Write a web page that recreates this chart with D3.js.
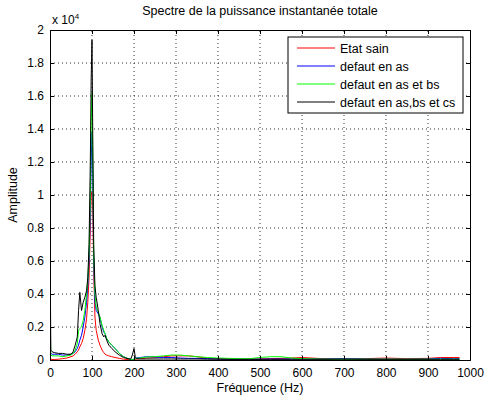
<!DOCTYPE html>
<html><head><meta charset="utf-8">
<script src="https://d3js.org/d3.v7.min.js"></script>
<style>body{margin:0;background:#fff}svg{display:block}text{font-family:"Liberation Sans",Arial,sans-serif;fill:#000}</style>
</head><body>
<script>
const freq = [0,2,5,10,20,30,40,50,55,60,65,68,71,75,79,83,87,90,93,96,98,100,102,104,107,110,115,119,124,128,131,135,140,147,155,165,175,186,192,196,200,203,206,215,230,250,270,290,310,330,350,375,400,425,450,475,500,525,550,575,600,650,700,750,800,850,900,930,960,975];
// values in units of 1e4
const etatSain = [0.01,0.005,0.003,0.003,0.005,0.008,0.012,0.02,0.025,0.035,0.05,0.06,0.08,0.1,0.13,0.18,0.25,0.35,0.5,0.8,1.0,1.02,0.9,0.55,0.26,0.18,0.12,0.09,0.06,0.045,0.035,0.03,0.025,0.02,0.015,0.01,0.005,0.003,0.002,0.002,0.003,0.003,0.005,0.008,0.012,0.015,0.02,0.025,0.025,0.025,0.02,0.01,0.008,0.006,0.005,0.005,0.006,0.008,0.01,0.012,0.015,0.008,0.006,0.008,0.012,0.008,0.01,0.015,0.015,0.015];
const defautAs = [0.05,0.04,0.035,0.035,0.035,0.03,0.03,0.035,0.04,0.05,0.07,0.09,0.12,0.15,0.2,0.26,0.35,0.45,0.6,0.9,1.2,1.38,1.1,0.6,0.35,0.3,0.28,0.26,0.2,0.17,0.16,0.13,0.11,0.09,0.07,0.04,0.02,0.008,0.004,0.003,0.005,0.01,0.012,0.015,0.02,0.018,0.015,0.015,0.012,0.01,0.01,0.008,0.006,0.005,0.005,0.005,0.005,0.006,0.006,0.006,0.006,0.006,0.008,0.006,0.005,0.005,0.006,0.01,0.008,0.008];
const defautAsBs = [0.28,0.03,0.025,0.025,0.025,0.02,0.025,0.03,0.04,0.06,0.1,0.18,0.19,0.2,0.24,0.3,0.4,0.48,0.65,1.0,1.45,1.62,1.2,0.65,0.4,0.32,0.29,0.26,0.21,0.18,0.16,0.13,0.11,0.09,0.07,0.04,0.02,0.008,0.004,0.003,0.005,0.008,0.01,0.012,0.018,0.02,0.025,0.03,0.03,0.025,0.02,0.015,0.012,0.01,0.008,0.008,0.015,0.02,0.02,0.012,0.008,0.005,0.005,0.005,0.005,0.005,0.005,0.005,0.005,0.005];
const defautAsBsCs = [0.73,0.06,0.05,0.045,0.04,0.04,0.035,0.035,0.05,0.09,0.14,0.3,0.41,0.3,0.35,0.38,0.42,0.5,0.7,1.2,1.7,1.94,1.3,0.7,0.45,0.38,0.3,0.22,0.16,0.14,0.15,0.12,0.09,0.07,0.05,0.03,0.015,0.008,0.005,0.03,0.07,0.02,0.008,0.006,0.006,0.006,0.006,0.006,0.006,0.006,0.006,0.005,0.005,0.004,0.004,0.004,0.004,0.004,0.004,0.004,0.004,0.004,0.005,0.004,0.004,0.004,0.004,0.004,0.004,0.004];
const seriesNames = ["Etat sain","defaut en as","defaut en as et bs","defaut en as,bs et cs"];
const seriesColors = ["#ff0000","#0000ff","#00ff00","#000000"];
const seriesData = [etatSain, defautAs, defautAsBs, defautAsBsCs];
const xTicks = [0,100,200,300,400,500,600,700,800,900,1000];
const yTicks = [0,0.2,0.4,0.6,0.8,1,1.2,1.4,1.6,1.8,2];

const W=484,H=400;
const m={l:50,r:14,t:30,b:40};
const svg=d3.select("body").append("svg").attr("width",W).attr("height",H);
const x=d3.scaleLinear().domain([0,1000]).range([m.l,W-m.r]);
const y=d3.scaleLinear().domain([0,2]).range([H-m.b,m.t]);
const fs=12.5, tfs=12;

// grid
const g=svg.append("g");
g.selectAll(".gx").data(xTicks.slice(1,-1)).join("line")
 .attr("x1",d=>x(d)).attr("x2",d=>x(d)).attr("y1",y(0)).attr("y2",y(2))
 .attr("stroke","#000").attr("stroke-width",1).attr("stroke-dasharray","1,3").attr("opacity",0.8);
g.selectAll(".gy").data(yTicks.slice(1,-1)).join("line")
 .attr("y1",d=>y(d)).attr("y2",d=>y(d)).attr("x1",x(0)).attr("x2",x(1000))
 .attr("stroke","#000").attr("stroke-width",1).attr("stroke-dasharray","1,3").attr("opacity",0.8);

// lines
const clip=svg.append("clipPath").attr("id","c").append("rect").attr("x",x(0)).attr("y",y(2)).attr("width",x(1000)-x(0)).attr("height",y(0)-y(2));
const line=d3.line().x((d,i)=>x(freq[i])).y(d=>y(d));
seriesData.forEach((s,k)=>{
  svg.append("path").datum(s).attr("d",line).attr("fill","none")
   .attr("stroke",seriesColors[k]).attr("stroke-width",1).attr("clip-path","url(#c)");
});

// axes
const ax=svg.append("g");
ax.append("g").attr("transform",`translate(0,${y(0)})`).call(d3.axisBottom(x).tickValues(xTicks).tickSize(-4).tickPadding(8).tickFormat(d3.format("d")));
ax.append("g").attr("transform",`translate(0,${y(2)})`).call(d3.axisTop(x).tickValues(xTicks).tickSize(-4).tickFormat(""));
ax.append("g").attr("transform",`translate(${x(0)},0)`).call(d3.axisLeft(y).tickValues(yTicks).tickSize(-4).tickPadding(6).tickFormat(d=>d===0?"0":(d===1||d===2)?String(d):d3.format(".1f")(d)));
ax.append("g").attr("transform",`translate(${x(1000)},0)`).call(d3.axisRight(y).tickValues(yTicks).tickSize(-4).tickFormat(""));
ax.selectAll(".domain").attr("stroke","#000");
ax.selectAll(".tick line").attr("stroke","#000");
ax.selectAll("text").attr("font-size",tfs).attr("font-family","Liberation Sans, Arial, sans-serif").attr("fill","#000");

// titles
svg.append("text").attr("x",(x(0)+x(1000))/2).attr("y",15).attr("text-anchor","middle").attr("font-size",fs).text("Spectre de la puissance instantanée totale");
const ex=svg.append("text").attr("x",52).attr("y",24).attr("font-size",tfs);
ex.append("tspan").text("x 10");
ex.append("tspan").attr("dy",-5).attr("font-size",8).text("4");
svg.append("text").attr("x",(x(0)+x(1000))/2).attr("y",392).attr("text-anchor","middle").attr("font-size",fs).text("Fréquence (Hz)");
svg.append("text").attr("transform",`translate(17,${(y(0)+y(2))/2}) rotate(-90)`).attr("text-anchor","middle").attr("font-size",fs).text("Amplitude");

// legend
const lg=svg.append("g");
lg.append("rect").attr("x",288).attr("y",37).attr("width",175).attr("height",76).attr("fill","#fff").attr("stroke","#000");
seriesNames.forEach((n,k)=>{
  const yy=48+k*18;
  lg.append("line").attr("x1",297).attr("x2",335).attr("y1",yy).attr("y2",yy).attr("stroke",seriesColors[k]);
  lg.append("text").attr("x",340).attr("y",yy+4.5).attr("font-size",fs).text(n);
});
</script>
</body></html>
